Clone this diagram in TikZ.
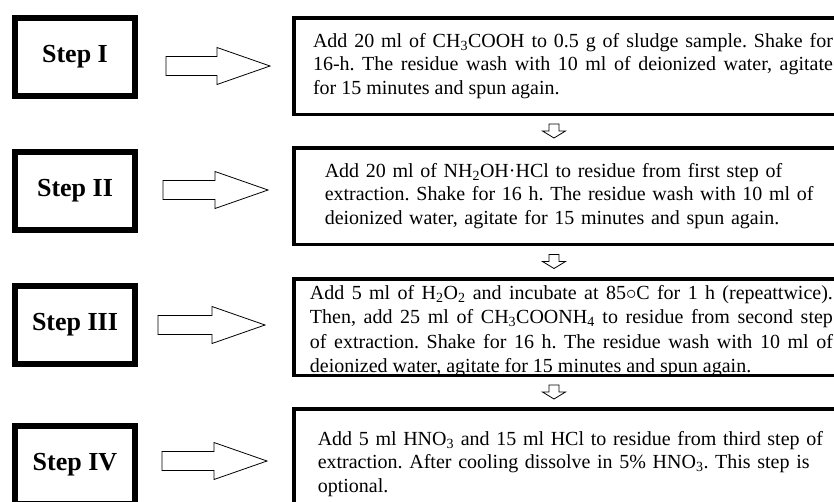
\documentclass[tikz,border=0pt]{standalone}
\usepackage{fontspec}
\setmainfont{Liberation Serif}
\frenchspacing
\usetikzlibrary{calc}

\tikzset{
  stepbox/.style={draw, line width=6pt, minimum width=120, minimum height=78, font=\fontsize{26}{30}\selectfont\bfseries},
  textbox/.style={draw, line width=3.5pt, anchor=north west, inner ysep=0pt, font=\fontsize{20}{23.5}\selectfont},
  hollow/.style={draw, line width=0.8pt, line join=miter},
}
% big open arrow from #1 (tail) to #2 (tip)
\newcommand{\hollowarrow}[2]{
  \path[hollow] ($(#1)+(0,-9.5)$) -- ($(#2)+(-53,-9.5)$) -- ($(#2)+(-53,-18.5)$) -- (#2)
    -- ($(#2)+(-53,18.5)$) -- ($(#2)+(-53,9.5)$) -- ($(#1)+(0,9.5)$) -- cycle;
}
% small open arrow pointing down, centred on #1
\newcommand{\smalldown}[1]{
  \path[hollow] ($(#1)+(-5,-7)$) -- ++(10,0) -- ++(0,7) -- ++(6.5,0) -- ($(#1)+(0,7)$)
    -- ($(#1)+(-11.5,0)$) -- ++(6.5,0) -- cycle;
}

\begin{document}
\begin{tikzpicture}[x=1pt, y=-1pt]
  \useasboundingbox (0,0) rectangle (834,501);
  \clip (0,0) rectangle (834,501);

  % steps
  \node[stepbox] (s1) at (75,57) {Step I};
  \node[stepbox] (s2) at (75,191) {Step II};
  \node[stepbox] (s3) at (75,324.5) {Step III};
  \node[stepbox] (s4) at (75,465) {Step IV};

  % procedures
  \node[textbox, text width=520, align=justify, inner xsep=19.25, minimum height=96.5] (t1) at (292,16)
    {Add 20 ml of CH\textsubscript{3}COOH to 0.5 g of sludge sample. Shake for\linebreak
     16-h. The residue wash with 10 ml of deionized water, agitate\linebreak
     for 15 minutes and spun again.};
  \node[textbox, text width=540, align=left, inner xsep=31, minimum height=96.5] (t2) at (292,146)
    {Add 20 ml of NH\textsubscript{2}OH·HCl to residue from first step of\\
     extraction. Shake for 16 h. The residue wash with 10 ml of\\
     deionized water, agitate for 15 minutes and spun again.};
  % third box is too full: text set on its own, a little low
  \node[textbox, minimum width=560, minimum height=96.5] (t3) at (292,277) {};
  \node[inner sep=0pt, anchor=west, text width=523, align=justify,
        font=\fontsize{20}{24.5}\selectfont] (t3x) at ($(t3.west)+(17.75,4)$)
    {Add 5 ml of H\textsubscript{2}O\textsubscript{2} and incubate at 85$\circ$C for 1 h (repeattwice).\linebreak
     Then, add 25 ml of CH\textsubscript{3}COONH\textsubscript{4} to residue from second step\linebreak
     of extraction. Shake for 16 h. The residue wash with 10 ml of\linebreak
     deionized water, agitate for 15 minutes and spun again.};
  \node[textbox, text width=540, align=left, inner xsep=24, minimum height=110] (t4) at (292,407)
    {Add 5 ml HNO\textsubscript{3} and 15 ml HCl to residue from third step of\\
     extraction. After cooling dissolve in 5\% HNO\textsubscript{3}. This step is\\
     optional.};

  % arrows step -> text
  \coordinate (a1) at ($(s1.east)+(28,9)$);
  \coordinate (b1) at ($(t1.west |- a1)+(-22,0)$);
  \coordinate (a2) at ($(s2.east)+(25,-1)$);
  \coordinate (b2) at ($(t2.west |- a2)+(-24,0)$);
  \coordinate (a3) at ($(s3.east)+(20,0.5)$);
  \coordinate (b3) at ($(t3.west |- a3)+(-27,0)$);
  \coordinate (a4) at ($(s4.east)+(24,-4)$);
  \coordinate (b4) at ($(t4.west |- a4)+(-25,0)$);
  \foreach \i in {1,...,4}
    \hollowarrow{a\i}{b\i};

  % arrows text -> text
  \coordinate (d1) at ($(t1.south west)!.5!(t2.north west)+(262,0)$);
  \coordinate (d2) at ($(t2.south west)!.5!(t3.north west)+(262,0)$);
  \coordinate (d3) at ($(t3.south west)!.5!(t4.north west)+(262,0)$);
  \foreach \i in {1,2,3}
    \smalldown{d\i};
\end{tikzpicture}
\end{document}
